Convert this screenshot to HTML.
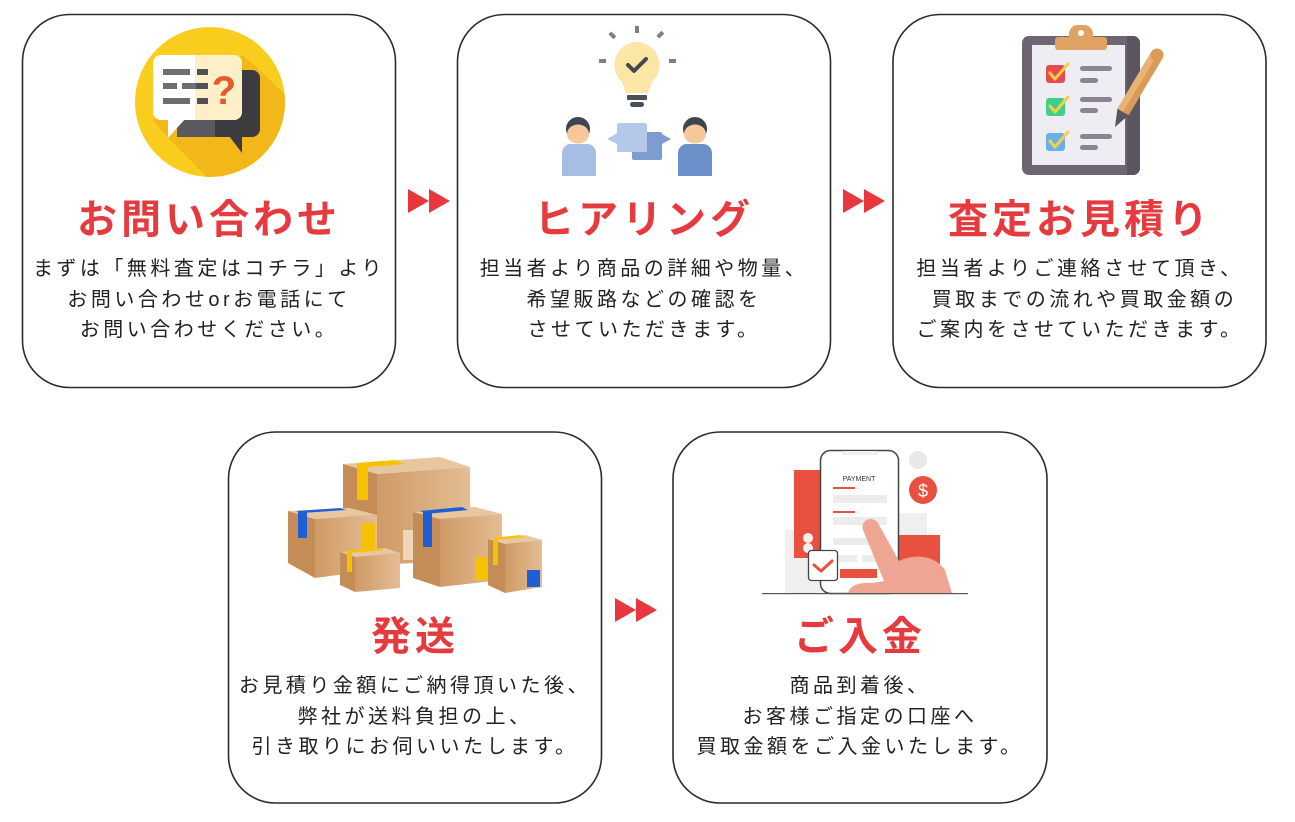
<!DOCTYPE html>
<html><head><meta charset="utf-8">
<style>
html,body{margin:0;padding:0;background:#fff;}
body{width:1295px;height:822px;position:relative;overflow:hidden;font-family:"Liberation Sans","Noto Sans CJK JP",sans-serif;}
svg{position:absolute;left:0;top:0;}
.t{position:absolute;text-align:center;white-space:pre;color:#e63b3e;font-weight:700;font-size:40px;line-height:50px;letter-spacing:4px;font-family:"Noto Sans CJK JP",sans-serif;}
.b{position:absolute;text-align:center;white-space:pre;color:#222;font-size:20px;line-height:30.5px;letter-spacing:3.5px;font-family:"Liberation Sans","Noto Sans CJK JP",sans-serif;}
</style></head><body>
<svg width="1295" height="822" viewBox="0 0 1295 822">
<defs>
<clipPath id="c1"><circle cx="210" cy="102" r="75"/></clipPath>
<linearGradient id="bx" x1="0" x2="1" y1="0" y2="0"><stop offset="0" stop-color="#cf9a66"/><stop offset="1" stop-color="#e4bd93"/></linearGradient>
</defs>
<!-- cards -->
<g fill="#fff" stroke="#2c2c2c" stroke-width="1.6">
<rect x="22.5" y="14.5" width="373" height="373" rx="47"/>
<rect x="457.5" y="14.5" width="373" height="373" rx="47"/>
<rect x="893" y="14.5" width="373" height="373" rx="47"/>
<rect x="228.5" y="432" width="373" height="371" rx="47"/>
<rect x="673" y="432" width="374" height="371" rx="47"/>
</g>
<!-- arrows -->
<g fill="#e8383d">
<polygon points="408,189 429,201 408,213"/><polygon points="429,189 450,201 429,213"/>
<polygon points="843,189 864,201 843,213"/><polygon points="864,189 885,201 864,213"/>
<polygon points="615,598 636,610 615,622"/><polygon points="636,598 657,610 636,622"/>
</g>

<!-- icon 1 -->
<circle cx="210" cy="102" r="75" fill="#f8cd1e"/>
<polygon clip-path="url(#c1)" points="242,55 260,70 345,155 252,222 168,138 153,120" fill="#f2b719"/>
<rect x="177" y="70" width="83" height="67" rx="8" fill="#3b3b40"/>
<rect x="177" y="118" width="38" height="19" fill="#5a5a60"/>
<polygon points="226,132 242,153 242,130" fill="#3b3b40"/>
<rect x="153" y="55" width="89" height="65" rx="8" fill="#fff"/>
<path d="M195,55 H234 A8,8 0 0 1 242,63 V112 A8,8 0 0 1 234,120 H195 Z" fill="#fdf0c8"/>
<polygon points="168,118 186,118 168,138" fill="#fff"/>
<g fill="#6e6e75">
<rect x="163" y="69" width="27" height="6"/><rect x="163" y="83" width="14" height="6"/><rect x="163" y="98" width="27" height="6"/>
<rect x="182" y="83" width="14" height="6"/>
</g>
<g fill="#505057">
<rect x="197" y="69" width="11" height="6"/><rect x="196" y="83" width="12" height="6"/><rect x="197" y="98" width="11" height="6"/>
</g>
<text x="224" y="104" text-anchor="middle" font-family="Liberation Sans,sans-serif" font-weight="700" font-size="40" fill="#e85a25">?</text>

<!-- icon 2 -->
<g fill="#7a8088">
<rect x="635" y="26" width="4" height="7"/>
<rect x="609" y="33" width="7" height="4" transform="rotate(45 612 35)"/>
<rect x="657" y="33" width="7" height="4" transform="rotate(-45 660 35)"/>
<rect x="599" y="59" width="7" height="4"/>
<rect x="669" y="59" width="7" height="4"/>
</g>
<path d="M637,42 A23,23 0 0 1 652,82 L648,93 L626,93 L622,82 A23,23 0 0 1 637,42 Z" fill="#fce6a6"/>
<rect x="627" y="95" width="20" height="5" rx="1" fill="#4a4f57"/>
<rect x="630" y="102" width="14" height="5" rx="2.5" fill="#4a4f57"/>
<polyline points="628,65 634,71 646,59" fill="none" stroke="#45494f" stroke-width="4" stroke-linecap="round" stroke-linejoin="round"/>
<circle cx="578" cy="129" r="12" fill="#3f4550"/>
<ellipse cx="578" cy="134" rx="11" ry="9.5" fill="#f6c79a"/>
<path d="M562,176 V153 A9,9 0 0 1 571,144 H587 A9,9 0 0 1 596,153 V176 Z" fill="#a6bee3"/>
<circle cx="695" cy="129" r="12" fill="#3f4550"/>
<ellipse cx="695" cy="134" rx="11" ry="9.5" fill="#f6c79a"/>
<path d="M678,176 V153 A9,9 0 0 1 687,144 H703 A9,9 0 0 1 712,153 V176 Z" fill="#6b8fc9"/>
<rect x="632" y="132" width="30" height="28" rx="2" fill="#7d9dd1"/>
<polygon points="660,133 671,139 660,145" fill="#7d9dd1"/>
<rect x="617" y="123" width="30" height="29" rx="2" fill="#b4c8e9"/>
<polygon points="619,132 607,139 619,145" fill="#b4c8e9"/>

<!-- icon 3 -->
<rect x="1022" y="36" width="118" height="139" rx="7" fill="#6d6572"/>
<path d="M1127,36 H1133 A7,7 0 0 1 1140,43 V168 A7,7 0 0 1 1133,175 H1127 Z" fill="#5c5461"/>
<rect x="1032" y="45" width="93" height="120" fill="#ededf3"/>
<rect x="1069" y="25" width="24" height="20" rx="9" fill="#e0a262"/>
<rect x="1055" y="37" width="52" height="13" rx="3" fill="#e0a262"/>
<circle cx="1081" cy="33" r="3" fill="#fff"/>
<rect x="1046" y="65" width="19" height="18" rx="3" fill="#e84a4e"/>
<rect x="1046" y="98" width="19" height="18" rx="3" fill="#3ecf8e"/>
<rect x="1046" y="133" width="19" height="18" rx="3" fill="#6ab0e8"/>
<g fill="none" stroke="#f5cf4a" stroke-width="3" stroke-linecap="round" stroke-linejoin="round">
<polyline points="1050,73 1055,79 1068,64"/><polyline points="1050,106 1055,112 1068,97"/><polyline points="1050,141 1055,147 1068,132"/>
</g>
<g fill="#8a8590">
<rect x="1080" y="66" width="32" height="5" rx="2.5"/><rect x="1080" y="78" width="18" height="5" rx="2.5"/>
<rect x="1080" y="97" width="32" height="5" rx="2.5"/><rect x="1080" y="108" width="18" height="5" rx="2.5"/>
<rect x="1080" y="134" width="32" height="5" rx="2.5"/><rect x="1080" y="145" width="18" height="5" rx="2.5"/>
</g>
<polygon points="1162.6,58.3 1151.4,51.7 1117.4,108.7 1128.6,115.3" fill="#dc9a58"/>
<polygon points="1157,55 1151.4,51.7 1117.4,108.7 1123,112" fill="#e8b373"/>
<circle cx="1157" cy="55" r="6.5" fill="#dc9a58"/>
<polygon points="1117.4,108.7 1128.6,115.3 1115,127" fill="#5a5560"/>

<!-- icon 4 boxes -->
<!-- big back box -->
<polygon points="343,464 440,457 470,467 377,474" fill="#e8c7a0"/>
<polygon points="343,464 377,474 377,565 343,556" fill="#c48d58"/>
<polygon points="377,474 470,467 470,560 377,565" fill="url(#bx)"/>
<polygon points="357,463 395,460 405,464 368,467" fill="#f6c200"/>
<rect x="357" y="464" width="11" height="36" fill="#f6c200"/>
<rect x="403" y="530" width="12" height="30" fill="#efd6b6"/>
<!-- box A -->
<polygon points="288,511 350,508 377,515 315,519" fill="#e8c7a0"/>
<polygon points="288,511 315,519 315,578 288,563" fill="#c48d58"/>
<polygon points="315,519 377,515 377,570 315,578" fill="url(#bx)"/>
<polygon points="296,511 340,508 346,510 302,513" fill="#1f5fd6"/>
<rect x="298" y="512" width="9" height="26" fill="#1f5fd6"/>
<rect x="362" y="523" width="13" height="27" fill="#f6c200"/>
<!-- box B -->
<polygon points="340,552 385,548 400,553 355,557" fill="#e8c7a0"/>
<polygon points="340,552 355,557 355,592 340,585" fill="#c48d58"/>
<polygon points="355,557 400,553 400,588 355,592" fill="url(#bx)"/>
<polygon points="345,551 380,548 384,550 350,553" fill="#f6c200"/>
<rect x="347" y="552" width="5" height="20" fill="#f6c200"/>
<!-- box C -->
<polygon points="413,512 475,507 502,514 440,519" fill="#e8c7a0"/>
<polygon points="413,512 440,519 440,587 413,578" fill="#c48d58"/>
<polygon points="440,519 502,514 502,580 440,587" fill="url(#bx)"/>
<polygon points="420,511 462,507 468,510 426,514" fill="#1f5fd6"/>
<rect x="423" y="512" width="9" height="35" fill="#1f5fd6"/>
<rect x="475" y="557" width="13" height="23" fill="#f6c200"/>
<!-- box D -->
<polygon points="488,539 525,535 542,540 505,544" fill="#e8c7a0"/>
<polygon points="488,539 505,544 505,593 488,585" fill="#c48d58"/>
<polygon points="505,544 542,540 542,587 505,593" fill="url(#bx)"/>
<polygon points="492,538 520,535 524,537 497,540" fill="#f6c200"/>
<rect x="493" y="539" width="5" height="26" fill="#f6c200"/>
<rect x="527" y="570" width="13" height="17" fill="#1f5fd6"/>

<!-- icon 5 payment -->
<rect x="785" y="530" width="38" height="63" fill="#efefef"/>
<rect x="895" y="513" width="32" height="30" fill="#efefef"/>
<circle cx="918" cy="460" r="9" fill="#e8e8e8"/>
<rect x="794" y="470" width="30" height="88" fill="#e8513f"/>
<circle cx="808" cy="538" r="5" fill="#fff" opacity="0.9"/>
<circle cx="808" cy="548" r="5" fill="#fff" opacity="0.9"/>
<rect x="895" y="535" width="45" height="35" fill="#e8513f"/>
<rect x="820.5" y="450.5" width="78" height="143" rx="10" fill="#fff" stroke="#444" stroke-width="1.5"/>
<rect x="842" y="451" width="36" height="4" rx="2" fill="#eee"/>
<text x="859" y="481" text-anchor="middle" font-family="Liberation Sans,sans-serif" font-size="7" fill="#333">PAYMENT</text>
<rect x="833" y="487" width="22" height="2" fill="#e8513f"/>
<rect x="833" y="495" width="54" height="8" fill="#ececec"/>
<rect x="833" y="511" width="22" height="2" fill="#e8513f"/>
<rect x="833" y="517" width="54" height="8" fill="#ececec"/>
<rect x="833" y="538" width="54" height="7" fill="#ececec"/>
<rect x="833" y="555" width="24" height="7" fill="#ececec"/>
<rect x="862" y="555" width="25" height="7" fill="#ececec"/>
<rect x="840" y="569" width="37" height="9" fill="#e8513f"/>
<circle cx="923" cy="490" r="14" fill="#e8513f"/>
<text x="923" y="497" text-anchor="middle" font-family="Liberation Sans,sans-serif" font-size="18" fill="#fff">$</text>
<path d="M863,530 C860,520 872,515 878,523 L899,561 C915,553 936,556 945,570 L952,593 L848,593 C850,585 860,582 872,583 L884,581 Z" fill="#efa594"/>
<rect x="808.5" y="550.5" width="29" height="30" rx="3" fill="#fff" stroke="#444" stroke-width="1.3"/>
<polyline points="814,565 821,571 832,561" fill="none" stroke="#e8513f" stroke-width="3" stroke-linecap="round" stroke-linejoin="round"/>
<rect x="762" y="593" width="206" height="1.2" fill="#555"/>
</svg>

<!-- titles -->
<div class="t" style="left:22px;width:374px;top:191px;">お問い合わせ</div>
<div class="t" style="left:457px;width:374px;top:191px;">ヒアリング</div>
<div class="t" style="left:893px;width:374px;top:191px;">査定お見積り</div>
<div class="t" style="left:228px;width:374px;top:608px;">発送</div>
<div class="t" style="left:673px;width:374px;top:608px;">ご入金</div>

<!-- bodies -->
<div class="b" style="left:22px;width:374px;top:254px;">まずは「無料査定はコチラ」より
お問い合わせorお電話にて
お問い合わせください。</div>
<div class="b" style="left:457px;width:374px;top:254px;">担当者より商品の詳細や物量、
希望販路などの確認を
させていただきます。</div>
<div class="b" style="left:893px;width:374px;top:254px;">担当者よりご連絡させて頂き、
 買取までの流れや買取金額の
ご案内をさせていただきます。</div>
<div class="b" style="left:228px;width:374px;top:671px;">お見積り金額にご納得頂いた後、
弊社が送料負担の上、
引き取りにお伺いいたします。</div>
<div class="b" style="left:673px;width:374px;top:671px;">商品到着後、
お客様ご指定の口座へ
買取金額をご入金いたします。</div>
</body></html>
